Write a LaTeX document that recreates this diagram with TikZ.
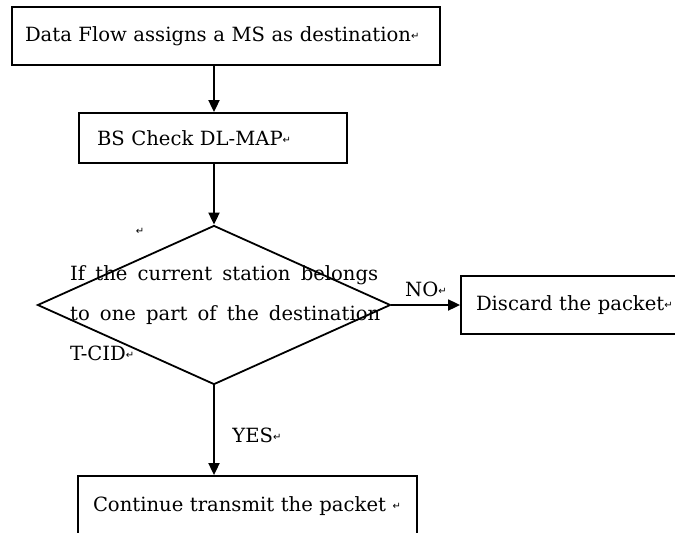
\documentclass[tikz,border=0pt]{standalone}
\usepackage{fontspec}
\setmainfont{DejaVu Serif}
\newfontfamily\markfont{DejaVu Sans}
\usetikzlibrary{arrows.meta,shapes.geometric}
% small paragraph mark that follows each text
\newcommand{\pmark}{{\markfont\fontsize{10}{10}\selectfont\raisebox{0.3ex}{↵}}}
\begin{document}
\begin{tikzpicture}[x=1pt,y=-1pt,
  box/.style={draw, line width=1.8pt, inner ysep=0pt, align=left,
              font=\fontsize{19.6}{22}\selectfont},
  arr/.style={line width=1.8pt, -{Triangle[width=11pt,length=12pt]}},
  lbl/.style={inner sep=0pt, font=\fontsize{19.6}{22}\selectfont}]
\clip (0,0) rectangle (675,533);

% process boxes
\node[box, text width=402pt, inner xsep=13pt, minimum height=58pt] (top) at (226,36)
  {Data Flow assigns a MS as destination\pmark};
\node[box, text width=232pt, inner xsep=18pt, minimum height=50pt] (bs) at (213,138)
  {BS Check DL-MAP\pmark};
\node[box, text width=209pt, inner xsep=15pt, minimum height=58pt] (discard) at (580.5,305)
  {Discard the packet\pmark};
\node[box, text width=309pt, inner xsep=15pt, minimum height=60pt] (bottom) at (247.5,506)
  {Continue transmit the packet \pmark};

% decision
\node[draw, shape=diamond, line width=1.8pt, inner sep=0pt,
      minimum width=353pt, minimum height=159pt] (d) at (214,305) {};
\node[anchor=north west, inner sep=0pt, align=left,
      font=\fontsize{19.6}{40}\selectfont] (dtext) at (70,265)
  {\makebox[308pt][s]{If the current station belongs}\\
   \makebox[310pt][s]{to one part of the destination}\\
   T-CID\pmark};
\node[inner sep=0pt] (m0) at (140,232) {\pmark};

% connectors
\draw[arr] (top.south -| d.north) -- (bs.north -| d.north);
\draw[arr] (bs.south -| d.north) -- (d.north);
\draw[arr] (d.east) -- (d.east -| discard.west);
\draw[arr] (d.south) -- (bottom.north -| d.south);

% branch labels
\node[lbl] (no) at (426,289) {NO\pmark};
\node[lbl] (yes) at (257,435) {YES\pmark};
\end{tikzpicture}
\end{document}
